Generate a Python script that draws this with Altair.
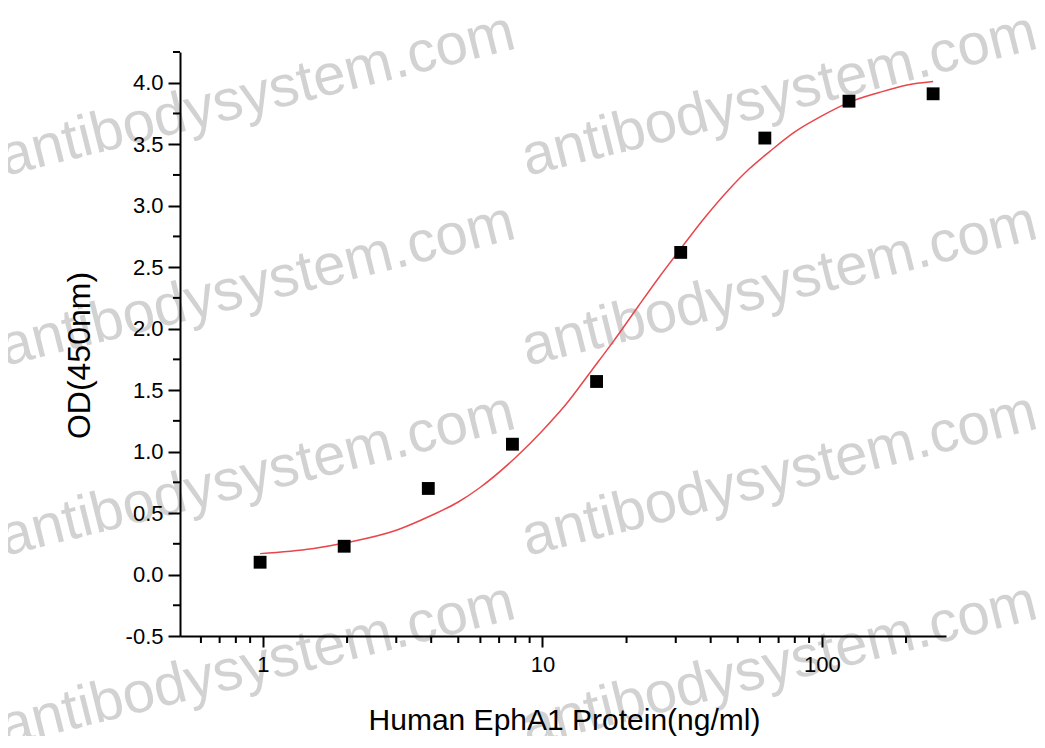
import altair as alt
import pandas as pd

# ---- data ----
conc = [0.977, 1.953, 3.906, 7.8125, 15.625, 31.25, 62.5, 125, 250]
od = [0.10, 0.23, 0.70, 1.06, 1.57, 2.62, 3.55, 3.85, 3.91]

fit_x = [0.977, 1.5, 2, 3, 4, 5, 6, 8, 10, 12, 15, 18, 22, 26, 31, 38, 46,
         55, 65, 80, 100, 125, 160, 200, 250]
fit_y = [0.17, 0.21, 0.26, 0.36, 0.48, 0.59, 0.71, 0.95, 1.17, 1.37, 1.66,
         1.90, 2.18, 2.41, 2.64, 2.90, 3.12, 3.30, 3.44, 3.60, 3.73, 3.84,
         3.92, 3.98, 4.01]

x_major = [1, 10, 100]
x_minor = [0.6, 0.7, 0.8, 0.9, 2, 3, 4, 5, 6, 7, 8, 9,
           20, 30, 40, 50, 60, 70, 80, 90, 200]
y_major = [-0.5, 0.0, 0.5, 1.0, 1.5, 2.0, 2.5, 3.0, 3.5, 4.0]
y_minor = [-0.25, 0.25, 0.75, 1.25, 1.75, 2.25, 2.75, 3.25, 3.75, 4.25]

x_title = "Human EphA1 Protein(ng/ml)"
y_title = "OD(450nm)"
watermark = "antibodysystem.com"

# ---- layout ----
W, H = 766, 584
FONT = "Liberation Sans, Arial, sans-serif"

xscale = alt.Scale(type="log", domain=[0.505, 278], nice=False)
yscale = alt.Scale(domain=[-0.5, 4.25], nice=False, zero=False)

xaxis = alt.Axis(
    values=x_major, format="d", tickSize=11, labelPadding=7,
    labelFontSize=22, title=x_title, titleFontSize=30,
    titleFontWeight="normal", titleY=93, titleBaseline="alphabetic",
    titleX=W / 2 + 1, zindex=2,
)
yaxis = alt.Axis(
    values=y_major, tickSize=12, labelPadding=5, labelFontSize=22,
    labelExpr="replace(format(datum.value, '.1f'), '\u2212', '-')",
    title=y_title, titleFontSize=32, titleFontWeight="normal",
    titleX=-84, titleY=303, zindex=2,
)

pts_df = pd.DataFrame({"conc": conc, "od": od})
fit_df = pd.DataFrame({"fx": fit_x, "fy": fit_y})
xmin_df = pd.DataFrame({"v": x_minor})
ymin_df = pd.DataFrame({"v": y_minor})
wm_df = pd.DataFrame({"t": [watermark]})

# watermarks (decoration, behind the data)
wm_layers = []
for px in [-175, 347]:
    for py in [124, 314, 504, 694]:
        wm_layers.append(
            alt.Chart(wm_df).mark_text(
                angle=346, align="left", baseline="alphabetic",
                fontSize=58, font=FONT, color="#d2d2d2"
            ).encode(text="t:N", x=alt.value(px), y=alt.value(py))
        )

x_minor_ticks = alt.Chart(xmin_df).mark_rule(color="black", strokeWidth=2).encode(
    x=alt.X("v:Q", scale=xscale, axis=xaxis),
    y=alt.value(H), y2=alt.value(H + 7),
)
y_minor_ticks = alt.Chart(ymin_df).mark_rule(color="black", strokeWidth=2).encode(
    y=alt.Y("v:Q", scale=yscale, axis=yaxis),
    x=alt.value(0), x2=alt.value(-7),
)

curve = alt.Chart(fit_df).mark_line(
    color="#e8464b", strokeWidth=1.5, interpolate="monotone"
).encode(
    x=alt.X("fx:Q", scale=xscale, axis=xaxis),
    y=alt.Y("fy:Q", scale=yscale, axis=yaxis),
)

points = alt.Chart(pts_df).mark_square(size=165, color="black", opacity=1).encode(
    x=alt.X("conc:Q", scale=xscale, axis=xaxis),
    y=alt.Y("od:Q", scale=yscale, axis=yaxis),
)

chart = alt.layer(
    *wm_layers, x_minor_ticks, y_minor_ticks, curve, points
).properties(
    width=W, height=H,
    padding={"left": 172, "top": 44, "right": 91, "bottom": 100},
    autosize=alt.AutoSizeParams(type="none"),
).configure_view(
    stroke=None
).configure_axis(
    domainColor="black", domainWidth=2, tickColor="black", tickWidth=2,
    labelColor="black", titleColor="black", grid=False,
    labelFont=FONT, titleFont=FONT,
)

chart.save("out.html", embed_options={"renderer": "svg", "actions": False})
